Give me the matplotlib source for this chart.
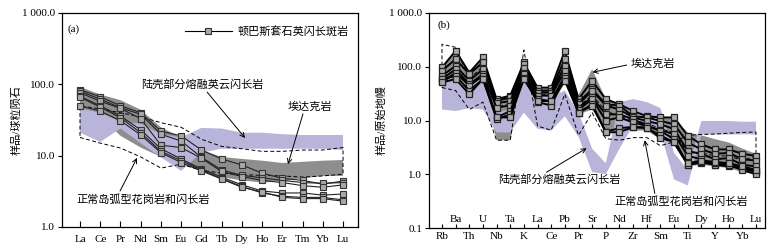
import matplotlib
matplotlib.use("Agg")
import matplotlib.pyplot as plt
import numpy as np

plt.rcParams['font.family'] = ['Liberation Serif', 'Noto Sans CJK SC']
plt.rcParams['font.size'] = 8

# ---------- panel (a): REE, chondrite normalised ----------
ree = ["La", "Ce", "Pr", "Nd", "Sm", "Eu", "Gd", "Tb", "Dy", "Ho", "Er", "Tm", "Yb", "Lu"]

ree_samples = [
    [84, 67, 50, 40, 22, 19, 12, 9.0, 7.4, 5.7, 4.8, 4.5, 4.0, 4.4],
    [80, 62, 47, 38, 20, 16, 9.5, 6.3, 5.3, 4.9, 4.5, 4.2, 4.1, 4.2],
    [76, 58, 46, 33, 14, 13, 9.2, 6.0, 5.1, 4.5, 4.2, 3.8, 3.6, 3.9],
    [68, 50, 36, 23, 12.5, 9.0, 6.5, 5.0, 3.9, 3.2, 3.0, 3.0, 2.8, 2.9],
    [66, 48, 34, 21, 11.5, 8.5, 6.3, 4.8, 3.7, 3.0, 2.7, 2.6, 2.6, 2.4],
    [50, 42, 31, 19.5, 11, 8.0, 6.1, 4.7, 3.6, 3.1, 2.6, 2.5, 2.5, 2.3],
]

ree_crust_hi = [46, 40, 30, 28, 20, 18, 24.5, 24, 21, 21, 20, 19.5, 19.5, 19.5]
ree_crust_lo = [21, 15.6, 24, 15, 9.5, 6.1, 11, 12.5, 12.5, 12.5, 12.5, 12.5, 12.5, 12]

ree_adakite_hi = [92, 72, 60, 44, 25, 18, 12, 9.6, 9.0, 8.5, 7.9, 8.2, 8.5, 8.7]
ree_adakite_lo = [45, 35, 19, 13, 9.6, 7.5, 6.3, 5.0, 4.5, 4.2, 4.4, 4.8, 5.2, 5.2]

ree_arc_hi = [50, 45, 40, 35, 29, 25, 17, 13.5, 12.5, 11.5, 11.5, 12, 12, 13]
ree_arc_lo = [18, 15, 12.8, 9.6, 6.7, 7.6, 6.2, 5.7, 5.4, 5.3, 5.2, 5.0, 5.2, 5.5]

# ---------- panel (b): trace elements, primitive mantle normalised ----------
trace = ["Rb", "Ba", "Th", "U", "Nb", "Ta", "K", "La", "Ce", "Pb", "Pr", "Sr",
         "P", "Nd", "Zr", "Hf", "Sm", "Eu", "Ti", "Dy", "Y", "Ho", "Yb", "Lu"]

trace_samples = [
    [97, 198, 78, 149, 25, 29, 120, 41, 41, 198, 25, 55, 25, 20, 15, 12, 11.4, 11.4, 5.2, 3.6, 2.9, 2.9, 2.4, 2.2],
    [84, 139, 73, 120, 23, 27, 112, 36, 36, 139, 22, 38, 20, 19, 12, 11.4, 9.8, 8.5, 3.9, 2.9, 2.4, 2.5, 1.9, 1.8],
    [68, 104, 55, 90, 21, 23, 93, 33, 33, 104, 20, 36, 19, 16, 11.4, 9.8, 8.5, 6.9, 2.7, 2.4, 1.9, 2.0, 1.5, 1.4],
    [59, 90, 47, 73, 17.4, 19, 78, 29, 29, 84, 17.4, 27, 13, 13, 10.6, 8.0, 6.6, 5.6, 2.2, 1.9, 1.5, 1.65, 1.3, 1.15],
    [51, 78, 44, 68, 11.4, 15, 73, 25, 23, 68, 16, 25, 10, 11.4, 9.2, 7.9, 6.4, 4.5, 1.5, 1.65, 1.5, 1.4, 1.3, 1.1],
    [59, 68, 36, 59, 10.6, 13, 63, 22, 19, 63, 14, 20, 6.2, 7.2, 7.6, 7.2, 5.3, 3.9, 1.5, 1.7, 1.6, 1.5, 1.2, 1.0],
    [51, 59, 31, 59, 11.4, 11.4, 59, 23, 23, 55, 14, 19, 6.0, 6.1, 7.5, 7.4, 4.7, 4.0, 1.6, 1.8, 1.7, 1.6, 1.4, 1.2],
]

trace_crust_hi = [55, 60, 50, 60, 14, 16, 60, 30, 28, 36, 14, 3.0, 1.6, 22, 25, 22, 17, 2.5, 1.2, 9.8, 9.8, 9.8, 9.5, 9.5]
trace_crust_lo = [16, 15, 17, 16, 6.0, 6.0, 14, 7, 6.5, 12, 5, 1.1, 1.0, 3, 8, 8, 6, 0.8, 0.62, 5.5, 5.5, 5.5, 5.5, 5.5]

trace_adakite_hi = [100, 200, 80, 150, 25, 30, 120, 40, 40, 200, 30, 90, 25, 20, 15, 12, 12, 11, 6, 5.3, 4.5, 3.9, 3.0, 2.4]
trace_adakite_lo = [45, 55, 23, 50, 4.3, 4.3, 55, 20, 18, 50, 13, 16, 6.5, 6, 6.5, 6.5, 4.5, 3.5, 1.4, 1.5, 1.4, 1.3, 1.1, 1.0]

# visible outline of the normal arc field, then the part hidden under the samples
trace_arc_lo = [41, 36, 16, 22, 4.3, 4.3, 205, 7.9, 6.6, 31, 5.3, 14, 4.6, 4.3, 4.8, 4.8, 3.4, 4.0, 5.3, 5.5, 5.6, 5.8, 6.0, 6.1]
trace_arc_hi = [262, 230, 60, 100, 18, 20, 90, 30, 30, 100, 18, 30, 15, 12, 10, 9, 7, 6, 2.5, 2.5, 2.2, 2.2, 1.8, 2.2]

BOX = "#a9a9a9"
LAV = "#b9b5da"
GRAY = "#8e8e8e"

fig = plt.figure(figsize=(7.79, 2.52), dpi=100)
ax1 = fig.add_axes([62 / 779, 25 / 252, 296 / 779, 214 / 252])
ax2 = fig.add_axes([429 / 779, 24 / 252, 336 / 779, 215 / 252])


def band(ax, x, hi, lo, color):
    ax.fill(np.concatenate([x, x[::-1]]), np.concatenate([hi, lo[::-1]]),
            color=color, lw=0, zorder=1)


def outline(ax, x, lo, hi):
    xs = np.concatenate([x, x[::-1], x[:1]])
    ys = np.concatenate([lo, hi[::-1], lo[:1]])
    ax.plot(xs, ys, ls=(0, (4, 2.5)), color="black", lw=0.7, zorder=2)


# panel a
xa = np.arange(len(ree))
band(ax1, xa, ree_adakite_hi, ree_adakite_lo, GRAY)
band(ax1, xa, ree_crust_hi, ree_crust_lo, LAV)
outline(ax1, xa, ree_arc_lo, ree_arc_hi)
for s in ree_samples:
    ax1.plot(xa, s, color="#222222", lw=0.8, marker="s", ms=4.2,
             mfc=BOX, mec="#333333", mew=0.8, zorder=3)

ax1.set_yscale("log")
ax1.set_ylim(1, 1000)
ax1.set_xlim(-0.89, 13.74)
ax1.set_yticks([1, 10, 100, 1000])
ax1.set_yticklabels(["1.0", "10.0", "100.0", "1 000.0"])
ax1.yaxis.set_minor_locator(matplotlib.ticker.NullLocator())
ax1.set_xticks(xa)
ax1.set_xticklabels(ree)
ax1.tick_params(axis="x", direction="in", length=4, width=0.8, pad=6)
ax1.tick_params(axis="y", direction="out", length=3, width=0.8, pad=2)
ax1.set_ylabel("样品/球粒陨石", labelpad=0)

ax1.text(-0.62, 590, "(a)", fontsize=8, va="center")
ax1.plot([5.19, 7.51], [560, 560], color="black", lw=0.8)
ax1.plot([6.35], [560], marker="s", ms=4.2, mfc=BOX, mec="#333333", mew=0.8)
ax1.text(7.8, 560, "顿巴斯套石英闪长斑岩", va="center", fontsize=8)

arrow = dict(arrowstyle="->", lw=0.7, color="black", shrinkA=0, shrinkB=0)
ax1.text(6.03, 101, "陆壳部分熔融英云闪长岩", ha="center", va="center", fontsize=8)
ax1.annotate("", xy=(8.16, 17.7), xytext=(6.28, 78), arrowprops=arrow)
ax1.text(11.37, 48, "埃达克岩", ha="center", va="center", fontsize=8)
ax1.annotate("", xy=(10.28, 7.6), xytext=(11.02, 38.5), arrowprops=arrow)
ax1.text(3.11, 2.39, "正常岛弧型花岗岩和闪长岩", ha="center", va="center", fontsize=8)
ax1.annotate("", xy=(2.82, 9.3), xytext=(1.98, 3.2), arrowprops=arrow)

# panel b
xb = np.arange(len(trace))
band(ax2, xb, trace_adakite_hi, trace_adakite_lo, GRAY)
band(ax2, xb, trace_crust_hi, trace_crust_lo, LAV)
outline(ax2, xb, trace_arc_lo, trace_arc_hi)
for s in trace_samples:
    ax2.plot(xb, s, color="black", lw=1.4, marker="s", ms=4.2,
             mfc=BOX, mec="#222222", mew=0.9, zorder=3)

ax2.set_yscale("log")
ax2.set_ylim(0.1, 1000)
ax2.set_xlim(-0.95, 23.66)
ax2.set_yticks([0.1, 1, 10, 100, 1000])
ax2.set_yticklabels(["0.1", "1.0", "10.0", "100.0", "1 000.0"])
ax2.yaxis.set_minor_locator(matplotlib.ticker.NullLocator())
ax2.set_xticks(xb)
ax2.set_xticklabels([t if i % 2 == 0 else "" for i, t in enumerate(trace)])
for i, t in enumerate(trace):
    if i % 2 == 1:
        ax2.text(i, 0.118, t, ha="center", va="bottom", fontsize=8)
ax2.tick_params(axis="x", direction="in", length=3, width=0.8, pad=3)
ax2.tick_params(axis="y", direction="out", length=3, width=0.8, pad=2)
ax2.set_ylabel("样品/原始地幔", labelpad=2)

ax2.text(-0.3, 600, "(b)", fontsize=8, va="center")
ax2.text(15.44, 112, "埃达克岩", ha="center", va="center", fontsize=8)
ax2.annotate("", xy=(11.03, 79), xytext=(13.53, 107.5), arrowprops=arrow)
ax2.text(8.6, 0.81, "陆壳部分熔融英云闪长岩", ha="center", va="center", fontsize=8)
ax2.annotate("", xy=(10.59, 3.05), xytext=(7.65, 1.09), arrowprops=arrow)
ax2.text(17.5, 0.31, "正常岛弧型花岗岩和闪长岩", ha="center", va="center", fontsize=8)
ax2.annotate("", xy=(14.85, 4.3), xytext=(15.59, 0.44), arrowprops=arrow)

for ax in (ax1, ax2):
    for sp in ax.spines.values():
        sp.set_linewidth(0.9)

fig.savefig("out.png", dpi=100)
